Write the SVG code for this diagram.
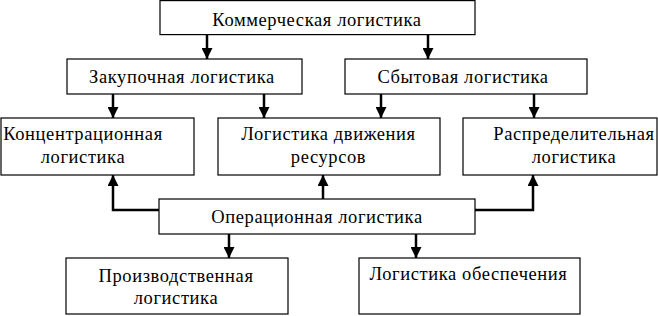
<svg xmlns="http://www.w3.org/2000/svg" width="658" height="316" viewBox="0 0 658 316">
<style>
.box{fill:#fff;stroke:#000;stroke-width:1.2}
.t{font-family:"Liberation Serif","DejaVu Serif",serif;font-size:18.5px;letter-spacing:0.6px;fill:#000;text-anchor:middle}
.c{fill:none;stroke:#000;stroke-width:2.5}
</style>
<defs>
<marker id="ah" markerUnits="userSpaceOnUse" markerWidth="11" markerHeight="11" viewBox="0 0 10 10" refX="10" refY="5" orient="auto">
<path d="M0,0 L10,5 L0,10 z" fill="#000"/>
</marker>
</defs>
<rect width="658" height="316" fill="#fff"/>
<g id="connectors">
<line class="c" x1="207" y1="35" x2="207" y2="59" marker-end="url(#ah)"/>
<line class="c" x1="428" y1="35" x2="428" y2="59" marker-end="url(#ah)"/>
<line class="c" x1="113" y1="94" x2="113" y2="118" marker-end="url(#ah)"/>
<line class="c" x1="264" y1="94" x2="264" y2="118" marker-end="url(#ah)"/>
<line class="c" x1="381" y1="94" x2="381" y2="118" marker-end="url(#ah)"/>
<line class="c" x1="534" y1="94" x2="534" y2="118" marker-end="url(#ah)"/>
<polyline class="c" points="159,210 113,210 113,175" marker-end="url(#ah)"/>
<line class="c" x1="323" y1="199" x2="323" y2="175" marker-end="url(#ah)"/>
<polyline class="c" points="475,210 533,210 533,175" marker-end="url(#ah)"/>
<line class="c" x1="229" y1="234" x2="229" y2="258" marker-end="url(#ah)"/>
<line class="c" x1="416" y1="234" x2="416" y2="258" marker-end="url(#ah)"/>
</g>
<g id="n-kommerch"><rect class="box" x="160" y="0.6" width="315" height="34"/><text class="t" x="317" y="26">Коммерческая логистика</text></g>
<g id="n-zakup"><rect class="box" x="67" y="59" width="235" height="35"/><text class="t" x="182" y="83">Закупочная логистика</text></g>
<g id="n-sbyt"><rect class="box" x="345" y="59" width="242" height="35"/><text class="t" x="463" y="83">Сбытовая логистика</text></g>
<g id="n-konc"><rect class="box" x="1" y="118" width="193" height="57"/><text class="t" x="83" y="140">Концентрационная</text><text class="t" x="83" y="163">логистика</text></g>
<g id="n-dvizh"><rect class="box" x="218" y="118" width="222" height="57"/><text class="t" x="328.5" y="140">Логистика движения</text><text class="t" x="328.5" y="163">ресурсов</text></g>
<g id="n-raspr"><rect class="box" x="463" y="118" width="194" height="57"/><text class="t" x="574" y="140">Распределительная</text><text class="t" x="574" y="163">логистика</text></g>
<g id="n-oper"><rect class="box" x="159" y="199" width="316" height="35"/><text class="t" x="317" y="223">Операционная логистика</text></g>
<g id="n-proizv"><rect class="box" x="66" y="258" width="222" height="56"/><text class="t" x="176" y="282">Производственная</text><text class="t" x="176" y="304">логистика</text></g>
<g id="n-obesp"><rect class="box" x="359" y="258" width="221" height="56"/><text class="t" x="468.5" y="280">Логистика обеспечения</text></g>
</svg>
